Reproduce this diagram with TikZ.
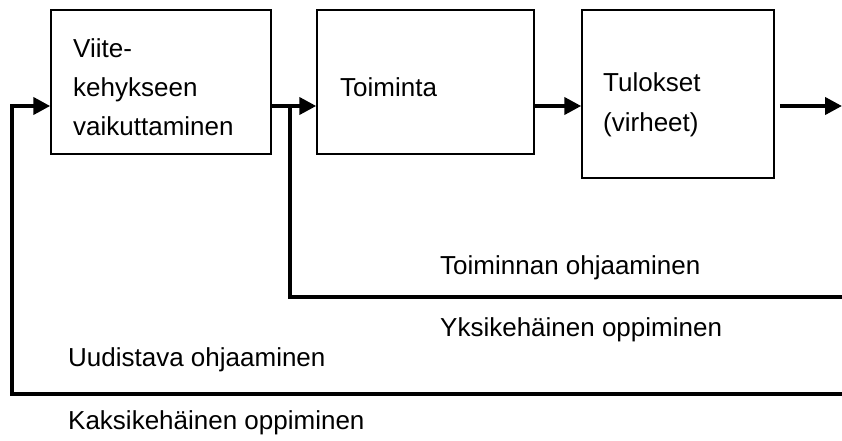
\documentclass[tikz,border=0pt]{standalone}
\usepackage{fontspec}
\setmainfont{Liberation Sans}
\usetikzlibrary{arrows.meta}

\begin{document}
\begin{tikzpicture}[x=1pt,y=-1pt,
    box/.style={rectangle,draw=black,line width=1.5pt},
    conn/.style={line width=4pt,line join=miter},
    tip/.style={-{Triangle[length=17pt,width=17pt]}},
    lbl/.style={anchor=west,align=left,inner sep=0pt,font=\fontsize{26}{39}\selectfont}]

      \useasboundingbox (0,0) rectangle (842,441);

      \node[box,minimum width=220pt,minimum height=144pt] (viite) at (161,82){};
      \node[lbl] at (73,87){Viite-\\kehykseen\\vaikuttaminen};
      \node[box,minimum width=217pt,minimum height=144pt] (toim) at (425.5,82){};
      \node[lbl] at (340,87){Toiminta};
      \node[box,minimum width=192pt,minimum height=168pt] (tulos) at (678,94){};
      \node[lbl,font=\fontsize{26}{40}\selectfont] at (603,105){Tulokset\\(virheet)};

      \coordinate (in) at (12,106);
      \coordinate (split) at (290,106);
      \coordinate (out) at (842,106);
      \coordinate (fb1) at (842,297);
      \coordinate (fb2) at (842,394);

      \draw[conn,tip] (fb2) -| (in) -- (in -| viite.west);
      \draw[conn,tip] (split -| viite.east) -- (split -| toim.west);
      \draw[conn,tip] (split -| toim.east) -- (split -| tulos.west);
      \draw[conn,tip] ([xshift=5pt]split -| tulos.east) -- (out);
      \draw[conn] (split) |- (fb1);

      \node[lbl] (ohj1) at (440,268){Toiminnan ohjaaminen};
      \node[lbl] (opp1) at (440,330){Yksikehäinen oppiminen};
      \node[lbl] (ohj2) at (68,360){Uudistava ohjaaminen};
      \node[lbl] (opp2) at (68,423){Kaksikehäinen oppiminen};

    \end{tikzpicture}
\end{document}
